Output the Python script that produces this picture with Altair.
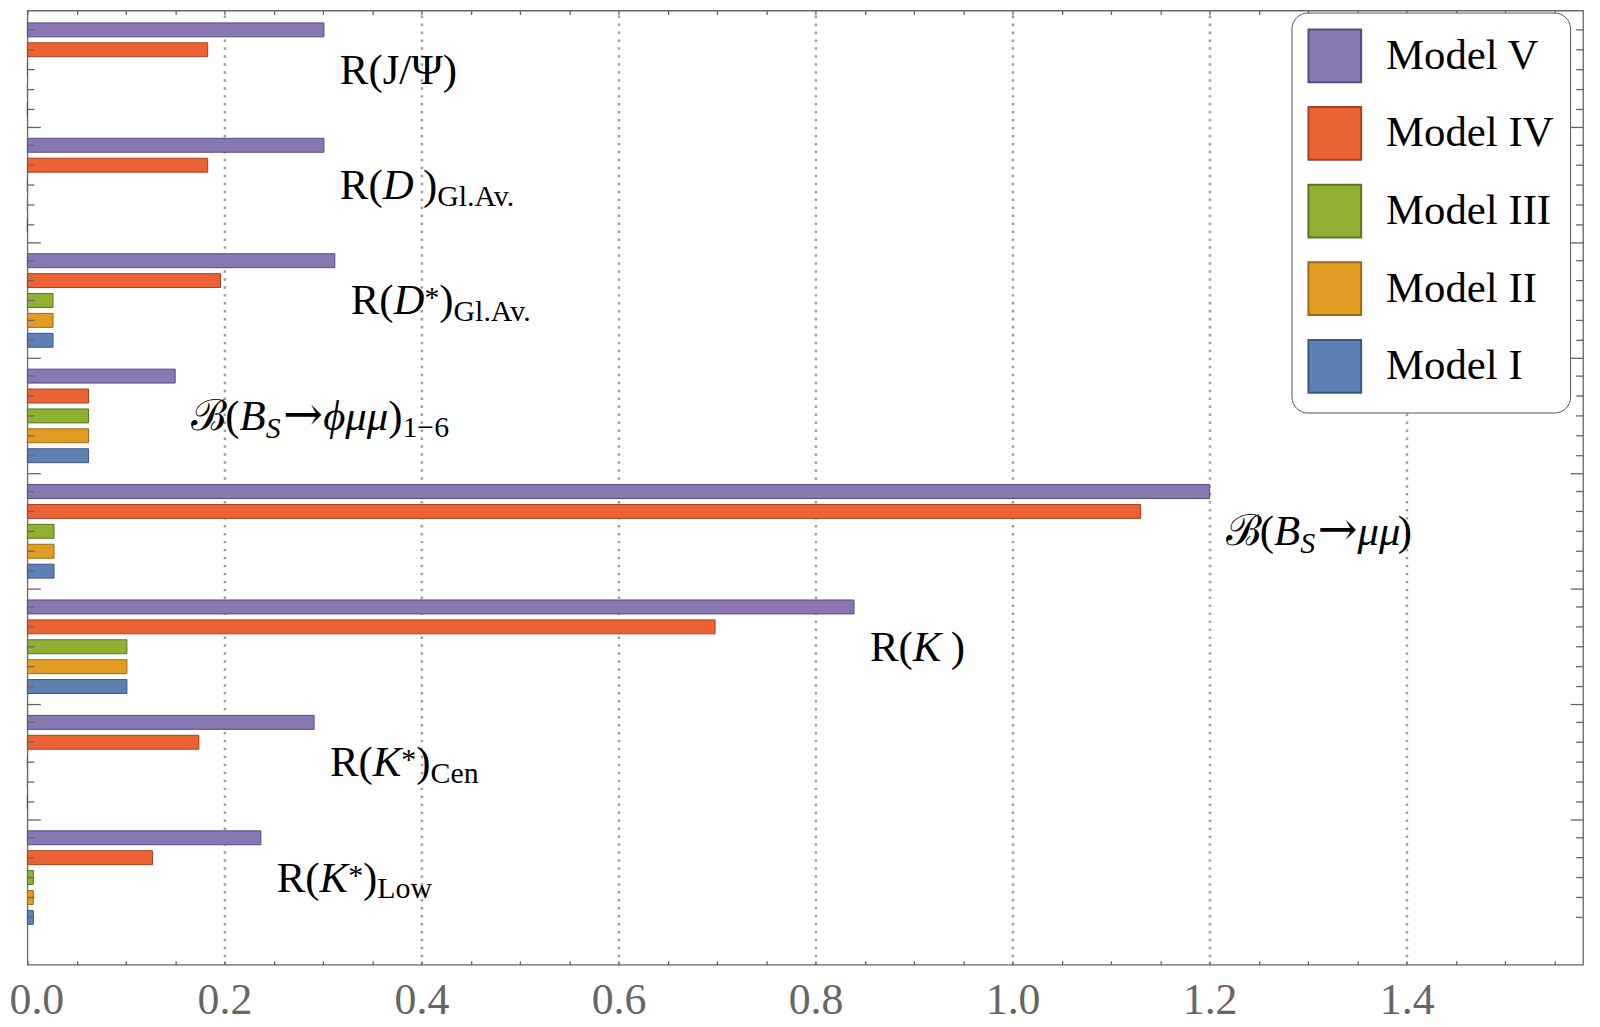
import altair as alt
import pandas as pd

# ---------------- data ----------------
groups = ["R(J/Ψ)", "R(D)Gl.Av.", "R(D*)Gl.Av.", "B(Bs→ϕμμ)1-6",
          "B(Bs→μμ)", "R(K)", "R(K*)Cen", "R(K*)Low"]
models = ["Model V", "Model IV", "Model III", "Model II", "Model I"]

model_v   = [0.301, 0.301, 0.312, 0.150, 1.200, 0.839, 0.291, 0.237]
model_iv  = [0.183, 0.183, 0.196, 0.062, 1.130, 0.698, 0.174, 0.127]
model_iii = [0.0,   0.0,   0.026, 0.062, 0.027, 0.101, 0.0,   0.006]
model_ii  = [0.0,   0.0,   0.026, 0.062, 0.027, 0.101, 0.0,   0.006]
model_i   = [0.0,   0.0,   0.026, 0.062, 0.027, 0.101, 0.0,   0.006]

fill_colors = ["#8778B3", "#EB6235", "#8FB032", "#E19C24", "#5E81B5"]
edge_colors = ["#574C7E", "#A8401F", "#5C7420", "#9C6A14", "#3B5681"]

x_tick_values = [round(i * 0.05, 2) for i in range(32)]

# label pieces: (text, style, gap before in em)
label_segments = [
    [("R(J/Ψ)", "rm", 0)],
    [("R(", "rm", 0), ("D", "it", 0), (")", "rm", 0.22), ("Gl.Av.", "sub", 0)],
    [("R(", "rm", 0), ("D", "it", 0), ("*", "sup", 0), (")", "rm", 0), ("Gl.Av.", "sub", 0)],
    [("ℬ", "rm", 0), ("(", "rm", 0), ("B", "it", 0), ("S", "subit", 0), ("→", "arrow", 0.05),
     ("ϕμμ", "it", 0), (")", "rm", 0), ("1−6", "sub", 0)],
    [("ℬ", "rm", 0), ("(", "rm", 0), ("B", "it", 0), ("S", "subit", 0), ("→", "arrow", 0.05),
     ("μμ", "it", 0), (")", "rm", 0)],
    [("R(", "rm", 0), ("K", "it", 0), (")", "rm", 0.22)],
    [("R(", "rm", 0), ("K", "it", 0), ("*", "sup", 0), (")", "rm", 0), ("Cen", "sub", 0)],
    [("R(", "rm", 0), ("K", "it", 0), ("*", "sup", 0), (")", "rm", 0), ("Low", "sub", 0)],
]

# ---------------- layout ----------------
W = 1563.5
H = 959
SERIF = "Liberation Serif, Times New Roman, DejaVu Serif, serif"
FRAME = "#666666"

series = [model_v, model_iv, model_iii, model_ii, model_i]
rows = []
for gi, g in enumerate(groups):
    for mi, m in enumerate(models):
        rows.append({"group": g, "model": m, "value": series[mi][gi]})
bars_df = pd.DataFrame(rows)
labels_df = pd.DataFrame({"gi": list(range(len(groups))), "group": groups, "xv": model_v})

xscale = alt.Scale(domain=[0, 1.579], nice=False, zero=True)
yscale = alt.Scale(domain=groups, paddingInner=16 / 116, paddingOuter=0.2026, align=0.2)
yoff_scale = alt.Scale(domain=models, paddingInner=0.3, paddingOuter=0.15)

major_test = "abs(datum.value*5 - round(datum.value*5)) < 0.001"

x_axis_main = alt.Axis(
    orient="bottom", values=x_tick_values, offset=-4, tickSize=4, tickColor=FRAME,
    tickWidth=1.3, domain=False, title=None,
    labelExpr=f"{major_test} ? format(datum.value, '.1f') : ''",
    labelFont=SERIF, labelFontSize=44, labelColor="#666666", labelPadding=14,
    labelFlush=False, labelOverlap=False,
    labelOffset={"condition": {"test": "datum.value < 0.01", "value": 9}, "value": 0},
    grid=True, gridColor="#a0a0a0", gridDash=[2.5, 5.5], gridWidth=2.5,
    gridOpacity={"condition": {"test": f"datum.value > 0.01 && {major_test}", "value": 1}, "value": 0},
)
x_axis_top = alt.Axis(
    orient="bottom", values=x_tick_values, offset=-H, tickSize=4, tickColor=FRAME,
    tickWidth=1.3, domain=False, labels=False, grid=False, title=None,
)
y_axis_left = alt.Axis(
    orient="left", offset=-13, tickSize=13, values=groups[1:], bandPosition=-0.08,
    labels=False, domain=False, grid=False, title=None, tickColor=FRAME, tickWidth=1.3,
)
y_axis_right = alt.Axis(
    orient="left", offset=-W, tickSize=13, values=groups[1:], bandPosition=-0.08,
    labels=False, domain=False, grid=False, title=None, tickColor=FRAME, tickWidth=1.3,
)

bars = alt.Chart(bars_df).mark_bar(strokeWidth=1).encode(
    x=alt.X("value:Q", scale=xscale, axis=x_axis_main),
    y=alt.Y("group:N", scale=yscale, axis=y_axis_left),
    yOffset=alt.YOffset("model:N", scale=yoff_scale),
    fill=alt.Fill("model:N", scale=alt.Scale(domain=models, range=fill_colors),
                  legend=alt.Legend(
                      title=None, orient="none", legendX=1270.5, legendY=2,
                      padding=16, strokeColor="#555555", cornerRadius=16, fillColor="white",
                      symbolType="square", symbolSize=2809, symbolStrokeWidth=2,
                      symbolStrokeColor="#a8a8a8", symbolOpacity=1,
                      labelFont=SERIF, labelFontSize=43, labelColor="black",
                      labelOffset=24, rowPadding=17, labelLimit=400)),
    stroke=alt.Stroke("model:N", scale=alt.Scale(domain=models, range=edge_colors), legend=None),
)

ticks_left = alt.Chart(bars_df).mark_rule(color=FRAME, strokeWidth=1.3).encode(
    x=alt.value(0), x2=alt.value(7),
    y=alt.Y("group:N", scale=yscale, axis=None),
    yOffset=alt.YOffset("model:N", scale=yoff_scale),
)
ticks_right = alt.Chart(bars_df).mark_rule(color=FRAME, strokeWidth=1.3).encode(
    x=alt.value(W - 7), x2=alt.value(W),
    y=alt.Y("group:N", scale=yscale, axis=y_axis_right),
    yOffset=alt.YOffset("model:N", scale=yoff_scale),
)

# text pieces
W_RM = {'R': 0.667, '(': 0.333, ')': 0.333, 'J': 0.389, '/': 0.278, 'Ψ': 0.78, ' ': 0.25,
        'G': 0.722, 'l': 0.278, '.': 0.25, 'A': 0.722, 'v': 0.5, 'C': 0.667, 'e': 0.444,
        'n': 0.5, 'L': 0.611, 'o': 0.5, 'w': 0.722, '1': 0.5, '−': 0.564, '6': 0.5,
        '→': 0.84, '*': 0.5, 'ℬ': 0.8}
W_IT = {'D': 0.722, 'K': 0.667, 'B': 0.611, 'S': 0.5, 'ϕ': 0.58, 'μ': 0.47}
STYLE = {
    "rm": dict(size=43, italic=False, dy=0, font=SERIF),
    "it": dict(size=43, italic=True, dy=0, font=SERIF),
    "arrow": dict(size=48, italic=False, dy=0, font="DejaVu Serif, DejaVu Sans, serif"),
    "sub": dict(size=30, italic=False, dy=7, font=SERIF),
    "subit": dict(size=30, italic=True, dy=8, font=SERIF),
    "sup": dict(size=30, italic=False, dy=-7, font=SERIF),
}
BASE_DX = 16
BASE_DY = 14

text_layers = []
first = True
for gi, segs in enumerate(label_segments):
    off = 0.0
    for txt, st, gap in segs:
        s = STYLE[st]
        off += gap * s["size"]
        table = W_IT if s["italic"] else W_RM
        layer = alt.Chart(labels_df).transform_filter(alt.datum.gi == gi).mark_text(
            text=txt, font=s["font"], fontSize=s["size"],
            fontStyle="italic" if s["italic"] else "normal",
            align="left", baseline="alphabetic", color="black",
            dx=BASE_DX + off, dy=BASE_DY + s["dy"],
        ).encode(
            x=alt.X("xv:Q", scale=xscale, axis=x_axis_top if first else None),
            y=alt.Y("group:N", scale=yscale, axis=None),
        )
        first = False
        text_layers.append(layer)
        off += sum(table.get(c, W_RM.get(c, 0.5)) for c in txt) * s["size"]

chart = alt.layer(bars, ticks_left, ticks_right, *text_layers).resolve_axis(
    x="independent", y="independent"
).properties(
    width=W, height=H,
    autosize=alt.AutoSizeParams(type="none"),
    padding={"left": 19.5, "top": 0, "right": 9, "bottom": 60},
).configure_view(stroke=FRAME, strokeWidth=1.3)

chart.save("out.html", embed_options={"renderer": "svg", "actions": False})
